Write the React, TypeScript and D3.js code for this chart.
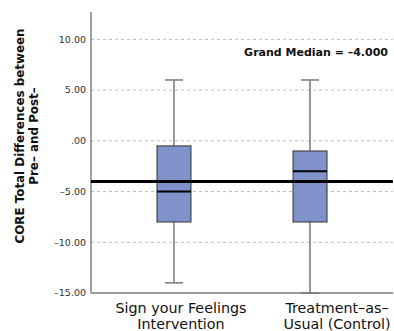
import React from 'react';
import * as d3 from 'd3';

const groups = ['Sign your Feelings|Intervention', 'Treatment–as–|Usual (Control)'];
const labelShift = [7, 27];
const whiskerLow = [-14, -15];
const q1 = [-8, -8];
const medians = [-5, -3];
const q3 = [-0.5, -1];
const whiskerHigh = [6, 6];
const grandMedian = -4;
const yTicks = [10, 5, 0, -5, -10, -15];

const width = 394;
const height = 331;
const left = 91;
const right = 393;
const top = 12;
const bottom = 293;

const fmt = (v: number) => (v === 0 ? '.00' : v.toFixed(2).replace('-', '–'));

export default function App() {
  const x = d3.scalePoint<string>().domain(groups).range([left, right]).padding(0.61);
  const y = d3.scaleLinear().domain([-15, 12.7]).range([bottom, top]);
  const boxW = 34;
  const capW = 18;
  const font = '"DejaVu Sans", Verdana, sans-serif';

  return (
    <svg width={width} height={height} style={{ position: 'absolute', left: 0, top: 0 }} fontFamily={font}>
      <rect width={width} height={height} fill="#fff" />
      {yTicks.filter(t => t > -15).map(t => (
        <line key={t} x1={left} x2={right} y1={y(t)} y2={y(t)} stroke="#bbb" strokeWidth={1} strokeDasharray="3,3" />
      ))}
      {yTicks.map(t => (
        <text key={t} x={86} y={y(t)} dy="0.35em" textAnchor="end" fontSize={9.5} fill="#333">{fmt(t)}</text>
      ))}
      <line x1={left} x2={left} y1={top} y2={bottom} stroke="#444" strokeWidth={1} />
      <line x1={left} x2={right} y1={bottom} y2={bottom} stroke="#999" strokeWidth={2} />

      {groups.map((g, i) => {
        const cx = x(g) as number;
        const lx = cx + labelShift[i];
        return (
          <g key={g}>
            <line x1={cx} x2={cx} y1={y(whiskerHigh[i])} y2={y(q3[i])} stroke="#333" />
            <line x1={cx} x2={cx} y1={y(q1[i])} y2={y(whiskerLow[i])} stroke="#333" />
            <line x1={cx - capW / 2} x2={cx + capW / 2} y1={y(whiskerHigh[i])} y2={y(whiskerHigh[i])} stroke="#777" strokeWidth={1.5} />
            <line x1={cx - capW / 2} x2={cx + capW / 2} y1={y(whiskerLow[i])} y2={y(whiskerLow[i])} stroke="#777" strokeWidth={1.5} />
            <rect x={cx - boxW / 2} y={y(q3[i])} width={boxW} height={y(q1[i]) - y(q3[i])} fill="#7f92c9" stroke="#333" strokeWidth={1} />
            <line x1={cx - boxW / 2} x2={cx + boxW / 2} y1={y(medians[i])} y2={y(medians[i])} stroke="#000" strokeWidth={2} />
            <text x={lx} y={313} textAnchor="middle" fontSize={14.3} fill="#111">
              {g.split('|').map((s, j) => (
                <tspan key={j} x={lx} dy={j === 0 ? 0 : 15.5}>{s}</tspan>
              ))}
            </text>
          </g>
        );
      })}

      <line x1={left} x2={right} y1={y(grandMedian)} y2={y(grandMedian)} stroke="#000" strokeWidth={3} />
      <text x={388} y={56} textAnchor="end" fontSize={11} fontWeight="bold" fill="#111">Grand Median = –4.000</text>

      <text transform="translate(24,136) rotate(-90)" textAnchor="middle" fontSize={11.9} fontWeight="bold" fill="#111">
        <tspan x={0} dy={0}>CORE Total Differences between</tspan>
        <tspan x={0} dy={13.5}>Pre– and Post–</tspan>
      </text>
    </svg>
  );
}
